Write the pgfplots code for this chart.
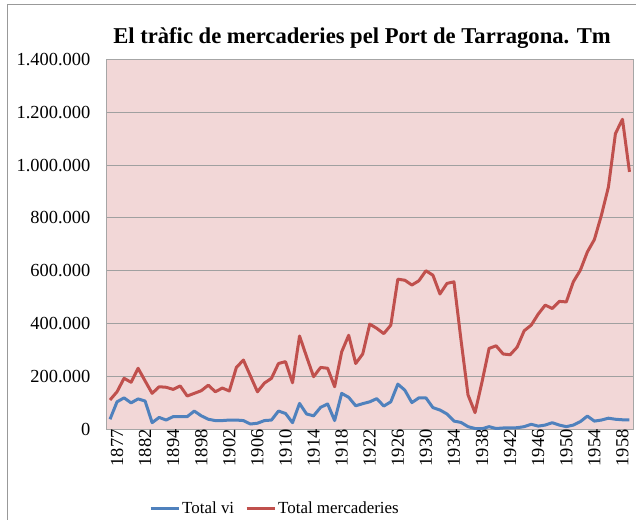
\documentclass[border=0pt]{standalone}
\usepackage{fontspec}
\setmainfont{Liberation Serif}
\usepackage{pgfplots}
\pgfplotsset{compat=1.18}
\usepackage{pgfplotstable}
\definecolor{plotbg}{RGB}{242,215,215}
\definecolor{seriesred}{RGB}{192,80,77}
\definecolor{seriesblue}{RGB}{79,129,189}
\definecolor{gridgray}{RGB}{160,160,160}

\pgfplotstableread{
i vi merc
0 38000 111000
1 104000 142000
2 119000 193000
3 100000 178000
4 115000 231000
5 107000 183000
6 25000 136000
7 45000 161000
8 35000 159000
9 48000 151000
10 48000 164000
11 48000 126000
12 69000 136000
13 51000 146000
14 38000 167000
15 33000 142000
16 33000 156000
17 35000 145000
18 35000 234000
19 33000 262000
20 20000 202000
21 23000 142000
22 33000 175000
23 35000 193000
24 69000 249000
25 60000 256000
26 25000 176000
27 98000 353000
28 58000 275000
29 51000 199000
30 83000 234000
31 96000 231000
32 33000 161000
33 136000 293000
34 121000 356000
35 89000 249000
36 97000 285000
37 104000 398000
38 116000 382000
39 88000 362000
40 104000 394000
41 171000 568000
42 148000 564000
43 101000 546000
44 119000 562000
45 119000 600000
46 82000 583000
47 73000 512000
48 58000 552000
49 31000 558000
50 26000 338000
51 10000 130000
52 3000 63000
53 2000 180000
54 10000 306000
55 3000 316000
56 5000 285000
57 5000 282000
58 6000 311000
59 10000 373000
60 19000 394000
61 12000 436000
62 16000 470000
63 25000 457000
64 16000 484000
65 10000 482000
66 16000 558000
67 29000 602000
68 50000 671000
69 31000 718000
70 35000 810000
71 42000 917000
72 38000 1119000
73 36000 1173000
74 36000 974000
}\datatable

\begin{document}
\begin{tikzpicture}
\useasboundingbox (0,0) rectangle (636bp,520bp);
\draw[gray!80, line width=1bp] (7bp,0) -- (7bp,515.3bp) -- (636bp,515.3bp);
\node[font=\bfseries\fontsize{22.7}{26}\selectfont] at (362bp,482bp) {El tràfic de mercaderies pel Port de Tarragona. Tm};
\begin{axis}[
  at={(106.5bp,90.7bp)}, anchor=south west, scale only axis,
  width=526.5bp, height=370bp,
  xmin=-0.5, xmax=74.5, ymin=0, ymax=1400000,
  axis background/.style={fill=plotbg},
  axis line style={gray!70},
  ytick={0,200000,...,1400000},
  scaled y ticks=false,
  ymajorgrids, grid style={gridgray, line width=0.9bp},
  major tick length=0pt,
  xtick={0,4,...,72},
  xticklabels={1877,1882,1894,1898,1902,1906,1910,1914,1918,1922,1926,1930,1934,1938,1942,1946,1950,1954,1958},
  tick label style={font=\fontsize{18.5}{20}\selectfont},
  x tick label style={rotate=90, anchor=east, inner sep=0pt, yshift=-7bp},
  y tick label style={anchor=east, inner sep=0pt, xshift=-16bp},
  yticklabel style={/pgf/number format/.cd, fixed, precision=0, 1000 sep={.}, assume math mode=true},
  legend columns=2,
  legend style={at={(0.32,-0.2127)}, anchor=center, draw=none, fill=none,
    font=\fontsize{17}{20}\selectfont,
    /tikz/every even column/.append style={column sep=9bp}},
  legend image code/.code={\draw[#1, line width=3bp] (0,0) -- (28bp,0);},
  every axis plot/.append style={line width=3bp, line join=round},
]
\addplot[seriesblue, mark=none] table[x=i, y=vi] {\datatable};
\addlegendentry{Total vi}
\addplot[seriesred, mark=none] table[x=i, y=merc] {\datatable};
\addlegendentry{Total mercaderies}
\end{axis}
\end{tikzpicture}
\end{document}
